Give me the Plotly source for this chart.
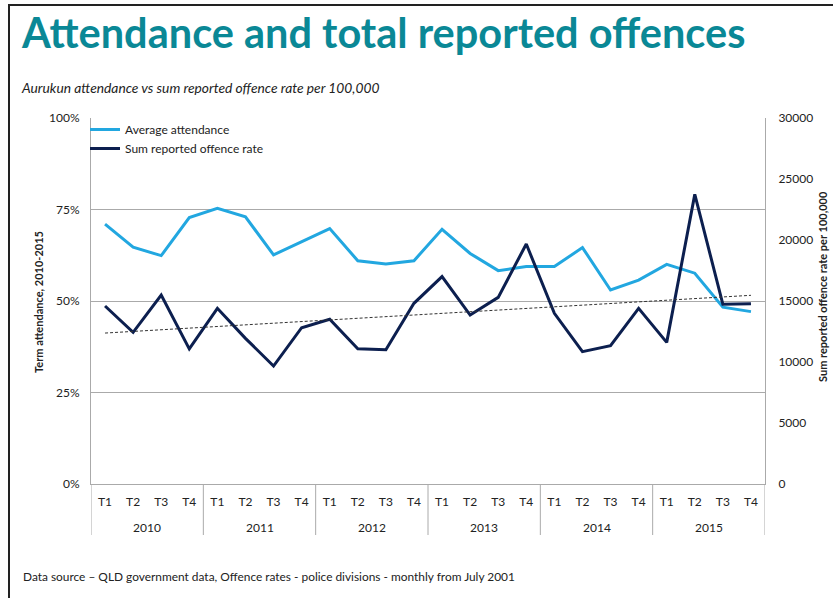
import numpy as np
import plotly.graph_objects as go

# ---- data ----
years = ["2010", "2011", "2012", "2013", "2014", "2015"]
terms = ["T1", "T2", "T3", "T4"]
attendance = [0.710, 0.647, 0.624, 0.728,
              0.753, 0.730, 0.626, 0.663,
              0.698, 0.610, 0.601, 0.610,
              0.696, 0.630, 0.583, 0.594,
              0.594, 0.646, 0.530, 0.557,
              0.600, 0.576, 0.483, 0.471]
offence = [14590, 12430, 15490, 11070,
           14400, 11940, 9670, 12810,
           13500, 11090, 11010, 14810,
           17000, 13850, 15300, 19670,
           13990, 10850, 11340, 14400,
           11610, 23740, 14730, 14780]

x_term = [t for _ in years for t in terms]
idx = np.arange(len(x_term))
nT = len(terms)

# linear trend of offence rate
slope, intercept = np.polyfit(idx, offence, 1)
trend = list(slope * idx + intercept)

LIGHT = "#22a7e0"
NAVY = "#0c1f4f"
TEAL = "#0a8896"
FONT = "Lato, 'Open Sans', sans-serif"
GRID = "#aaaaaa"

fig = go.Figure()
fig.add_trace(go.Scatter(x=idx, y=attendance, mode="lines", name="Average attendance",
                         line=dict(color=LIGHT, width=3), yaxis="y"))
fig.add_trace(go.Scatter(x=idx, y=offence, mode="lines", name="Sum reported offence rate",
                         line=dict(color=NAVY, width=3), yaxis="y2"))
fig.add_trace(go.Scatter(x=idx, y=trend, mode="lines", showlegend=False,
                         line=dict(color="#333333", width=1, dash="3px,2px"), yaxis="y2"))

L, R, T, B = 91, 68, 118, 114
W, H = 833, 598
pw, ph = W - L - R, H - T - B


def px(x):
    return (x - L) / pw


def py(y):
    return (H - B - y) / ph


annotations = [
    dict(text="<i>Aurukun attendance vs sum reported offence rate per 100,000</i>",
         xref="paper", yref="paper", x=px(19), y=py(87), xanchor="left", yanchor="middle",
         showarrow=False, font=dict(size=13.8, color="#222222")),
    dict(text="Data source \u2013 QLD government data, Offence rates - police divisions - monthly from July 2001",
         xref="paper", yref="paper", x=px(21), y=py(576), xanchor="left", yanchor="middle",
         showarrow=False, font=dict(size=11.9, color="#222222")),
    dict(text="<b>Term attendance, 2010-2015</b>", textangle=-90,
         xref="paper", yref="paper", x=px(38), y=py(302), xanchor="center", yanchor="middle",
         showarrow=False, font=dict(size=11, color="#222222")),
    dict(text="<b>Sum reported offence rate per 100,000</b>", textangle=-90,
         xref="paper", yref="paper", x=px(822), y=py(287), xanchor="center", yanchor="middle",
         showarrow=False, font=dict(size=11, color="#222222")),
]
# year group labels under the term labels
for k, yr in enumerate(years):
    annotations.append(dict(text=yr, xref="x", yref="paper", x=k * nT + (nT - 1) / 2, y=py(527),
                            xanchor="center", yanchor="middle", showarrow=False,
                            font=dict(size=12, color="#222222")))

shapes = [
    dict(type="line", xref="paper", yref="paper", x0=px(9), x1=px(9), y0=py(4), y1=py(600),
         line=dict(color="#222222", width=2)),
    dict(type="line", xref="paper", yref="paper", x0=px(8), x1=px(840), y0=py(5), y1=py(5),
         line=dict(color="#222222", width=2)),
]
# year dividers
for k in range(len(years) + 1):
    shapes.append(dict(type="line", xref="x", yref="paper", x0=k * nT - 0.5, x1=k * nT - 0.5,
                       y0=0, y1=py(535), line=dict(color=GRID, width=1)))

fig.update_layout(
    width=W, height=H,
    margin=dict(l=L, r=R, t=T, b=B),
    paper_bgcolor="white", plot_bgcolor="white",
    font=dict(family=FONT, size=12, color="#222222"),
    title=dict(text="Attendance and total reported offences",
               x=22 / W, xanchor="left", y=1 - 33 / H, yanchor="middle",
               font=dict(family=FONT, size=41.5, color=TEAL, weight="bold")),
    showlegend=True,
    legend=dict(x=px(85), y=py(115), xanchor="left", yanchor="top", bgcolor="rgba(0,0,0,0)",
                font=dict(size=12), itemwidth=30, tracegroupgap=0),
    xaxis=dict(type="linear", range=[-0.5, len(x_term) - 0.5],
               tickvals=list(idx), ticktext=x_term,
               showline=True, linecolor=GRID, linewidth=1,
               showgrid=False, zeroline=False, ticks="", ticklabelstandoff=7,
               tickfont=dict(size=12)),
    yaxis=dict(range=[0, 1], dtick=0.25, tickformat=".0%",
               showgrid=True, gridcolor=GRID, gridwidth=1,
               showline=True, linecolor=GRID, linewidth=1,
               zeroline=False, ticks="", ticklabelstandoff=8,
               tickfont=dict(size=12)),
    yaxis2=dict(range=[0, 30000], dtick=5000, tickformat="d", overlaying="y", side="right",
                showgrid=False, showline=True, linecolor=GRID, linewidth=1,
                zeroline=False, ticks="", ticklabelstandoff=10,
                tickfont=dict(size=12)),
    annotations=annotations,
    shapes=shapes,
)

fig.write_html("out.html")
